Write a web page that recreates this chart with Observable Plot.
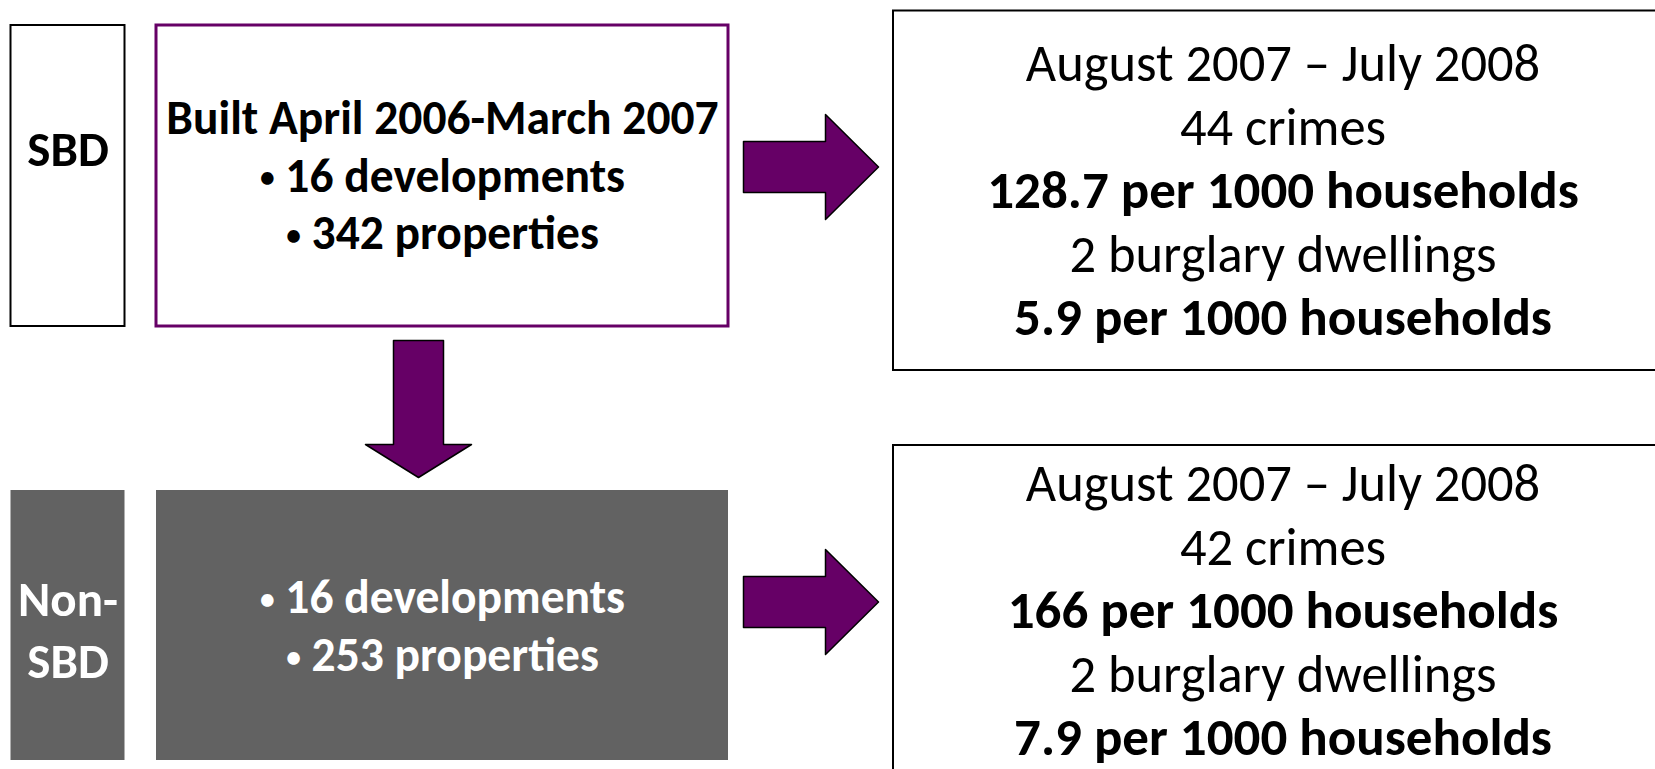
<!DOCTYPE html>
<html>
<head>
<meta charset="utf-8">
<script src="https://cdn.jsdelivr.net/npm/d3@7"></script>
<script src="https://cdn.jsdelivr.net/npm/@observablehq/plot@0.6"></script>
<style>
  html, body { margin: 0; padding: 0; background: #ffffff; }
  svg { display: block; }
</style>
</head>
<body>
<div id="chart"></div>
<script>
// ---------- data ----------
const groups = ["SBD", "Non-SBD"];
const groupLabelLines = [["SBD"], ["Non-", "SBD"]];
const builtHeading = ["Built April 2006-March 2007", null];
const developments = [16, 16];
const properties = [342, 253];
const outcomePeriod = ["August 2007 – July 2008", "August 2007 – July 2008"];
const crimes = [44, 42];
const crimeRate = ["128.7", "166"];
const burglaries = [2, 2];
const burglaryRate = ["5.9", "7.9"];

// ---------- layout (pixels) ----------
const W = 1655, H = 769;
const PURPLE = "#660066", GREY = "#626262";
const FONT = "Carlito, Calibri, Lato, sans-serif";
const FS = {label: 49, detail: 47.5, outcome: 52.5, outcomeBold: 53};
const layout = {
  labelX: [10.5, 124.5],
  detailX: [156, 728],
  outcomeX: [893, 1672],
  rowY: [[25, 326], [490, 760]],
  outcomeY: [[10.5, 370], [445, 806]],
  labelCenter: [150, 631],
  detailCenter: [176, 626.5],
  outcomeCenter: [191, 611],
  labelStep: 62, detailStep: 57.5, outcomeStep: 63.5,
  rightArrow: {x0: 743, x1: 825, x2: 878, shaft: 25.5, head: 52.5, cy: [166.5, 601.5]},
  downArrow: {cx: 418, shaft: 25, head: 53, y0: 340, y1: 444, y2: 477}
};

// ---------- build records ----------
const boxes = groups.map((g, i) => ({
  group: g, i,
  lx1: layout.labelX[0], lx2: layout.labelX[1],
  dx1: layout.detailX[0], dx2: layout.detailX[1],
  ox1: layout.outcomeX[0], ox2: layout.outcomeX[1],
  y1: layout.rowY[i][0], y2: layout.rowY[i][1],
  oy1: layout.outcomeY[i][0], oy2: layout.outcomeY[i][1]
}));

function stack(lines, cx, cy, step) {
  const n = lines.length;
  return lines.map((l, k) => ({...l, x: cx, y: cy + (k - (n - 1) / 2) * step}));
}

const labelText = [];
const detailText = [];
const outcomeText = [];
groups.forEach((g, i) => {
  const white = i === 1;
  labelText.push(...stack(groupLabelLines[i].map(t => ({text: t, white})),
    (layout.labelX[0] + layout.labelX[1]) / 2, layout.labelCenter[i], layout.labelStep));
  const dl = [];
  if (builtHeading[i]) dl.push({text: builtHeading[i], white});
  dl.push({text: `• ${developments[i]} developments`, white});
  dl.push({text: `• ${properties[i]} properties`, white});
  detailText.push(...stack(dl, (layout.detailX[0] + layout.detailX[1]) / 2, layout.detailCenter[i], layout.detailStep));
  const ol = [
    {text: outcomePeriod[i], bold: false},
    {text: `${crimes[i]} crimes`, bold: false},
    {text: `${crimeRate[i]} per 1000 households`, bold: true},
    {text: `${burglaries[i]} burglary dwellings`, bold: false},
    {text: `${burglaryRate[i]} per 1000 households`, bold: true}
  ];
  outcomeText.push(...stack(ol, (layout.outcomeX[0] + layout.outcomeX[1]) / 2, layout.outcomeCenter[i], layout.outcomeStep));
});

// arrows as closed polygons
const arrowPts = [];
const ra = layout.rightArrow;
ra.cy.forEach((cy, i) => {
  const id = "r" + i;
  [[ra.x0, cy - ra.shaft], [ra.x1, cy - ra.shaft], [ra.x1, cy - ra.head], [ra.x2, cy],
   [ra.x1, cy + ra.head], [ra.x1, cy + ra.shaft], [ra.x0, cy + ra.shaft]]
    .forEach(([x, y]) => arrowPts.push({id, x, y}));
});
{
  const d = layout.downArrow;
  [[d.cx - d.shaft, d.y0], [d.cx + d.shaft, d.y0], [d.cx + d.shaft, d.y1], [d.cx + d.head, d.y1],
   [d.cx, d.y2], [d.cx - d.head, d.y1], [d.cx - d.shaft, d.y1]]
    .forEach(([x, y]) => arrowPts.push({id: "d", x, y}));
}

const chart = Plot.plot({
  width: W, height: H, margin: 0,
  x: {domain: [0, W], range: [0, W], axis: null},
  y: {domain: [0, H], range: [0, H], axis: null},
  style: {background: "#ffffff", fontFamily: FONT},
  marks: [
    // label boxes
    Plot.rect(boxes.filter(b => b.i === 0), {x1: "lx1", x2: "lx2", y1: "y1", y2: "y2", fill: "white", stroke: "black", strokeWidth: 2}),
    Plot.rect(boxes.filter(b => b.i === 1), {x1: "lx1", x2: "lx2", y1: "y1", y2: "y2", fill: GREY}),
    // detail boxes
    Plot.rect(boxes.filter(b => b.i === 0), {x1: "dx1", x2: "dx2", y1: "y1", y2: "y2", fill: "white", stroke: PURPLE, strokeWidth: 3}),
    Plot.rect(boxes.filter(b => b.i === 1), {x1: "dx1", x2: "dx2", y1: "y1", y2: "y2", fill: GREY}),
    // outcome boxes
    Plot.rect(boxes, {x1: "ox1", x2: "ox2", y1: "oy1", y2: "oy2", fill: "white", stroke: "black", strokeWidth: 2}),
    // arrows
    Plot.line(arrowPts, {x: "x", y: "y", z: "id", curve: "linear-closed", fill: PURPLE, stroke: "black", strokeWidth: 1.5}),
    // texts
    Plot.text(labelText.filter(d => !d.white), {x: "x", y: "y", text: "text", fontSize: FS.label, fontWeight: "bold", fill: "black"}),
    Plot.text(labelText.filter(d => d.white), {x: "x", y: "y", text: "text", fontSize: FS.label, fontWeight: "bold", fill: "white"}),
    Plot.text(detailText.filter(d => !d.white), {x: "x", y: "y", text: "text", fontSize: FS.detail, fontWeight: "bold", fill: "black"}),
    Plot.text(detailText.filter(d => d.white), {x: "x", y: "y", text: "text", fontSize: FS.detail, fontWeight: "bold", fill: "white"}),
    Plot.text(outcomeText.filter(d => !d.bold), {x: "x", y: "y", text: "text", fontSize: FS.outcome, fill: "black"}),
    Plot.text(outcomeText.filter(d => d.bold), {x: "x", y: "y", text: "text", fontSize: FS.outcomeBold, fontWeight: "bold", fill: "black"})
  ]
});

// render bullets smaller, like the original font's bullet glyph
const NS = "http://www.w3.org/2000/svg";
chart.querySelectorAll("text").forEach(t => {
  const s = t.textContent;
  if (s.startsWith("• ")) {
    t.textContent = "";
    const b = document.createElementNS(NS, "tspan");
    b.setAttribute("font-size", FS.detail * 0.62);
    b.setAttribute("dy", -FS.detail * 0.09);
    b.textContent = "•";
    const r = document.createElementNS(NS, "tspan");
    r.setAttribute("dy", FS.detail * 0.09);
    r.textContent = s.slice(1);
    t.appendChild(b);
    t.appendChild(r);
  }
});
document.getElementById("chart").appendChild(chart);
</script>
</body>
</html>
